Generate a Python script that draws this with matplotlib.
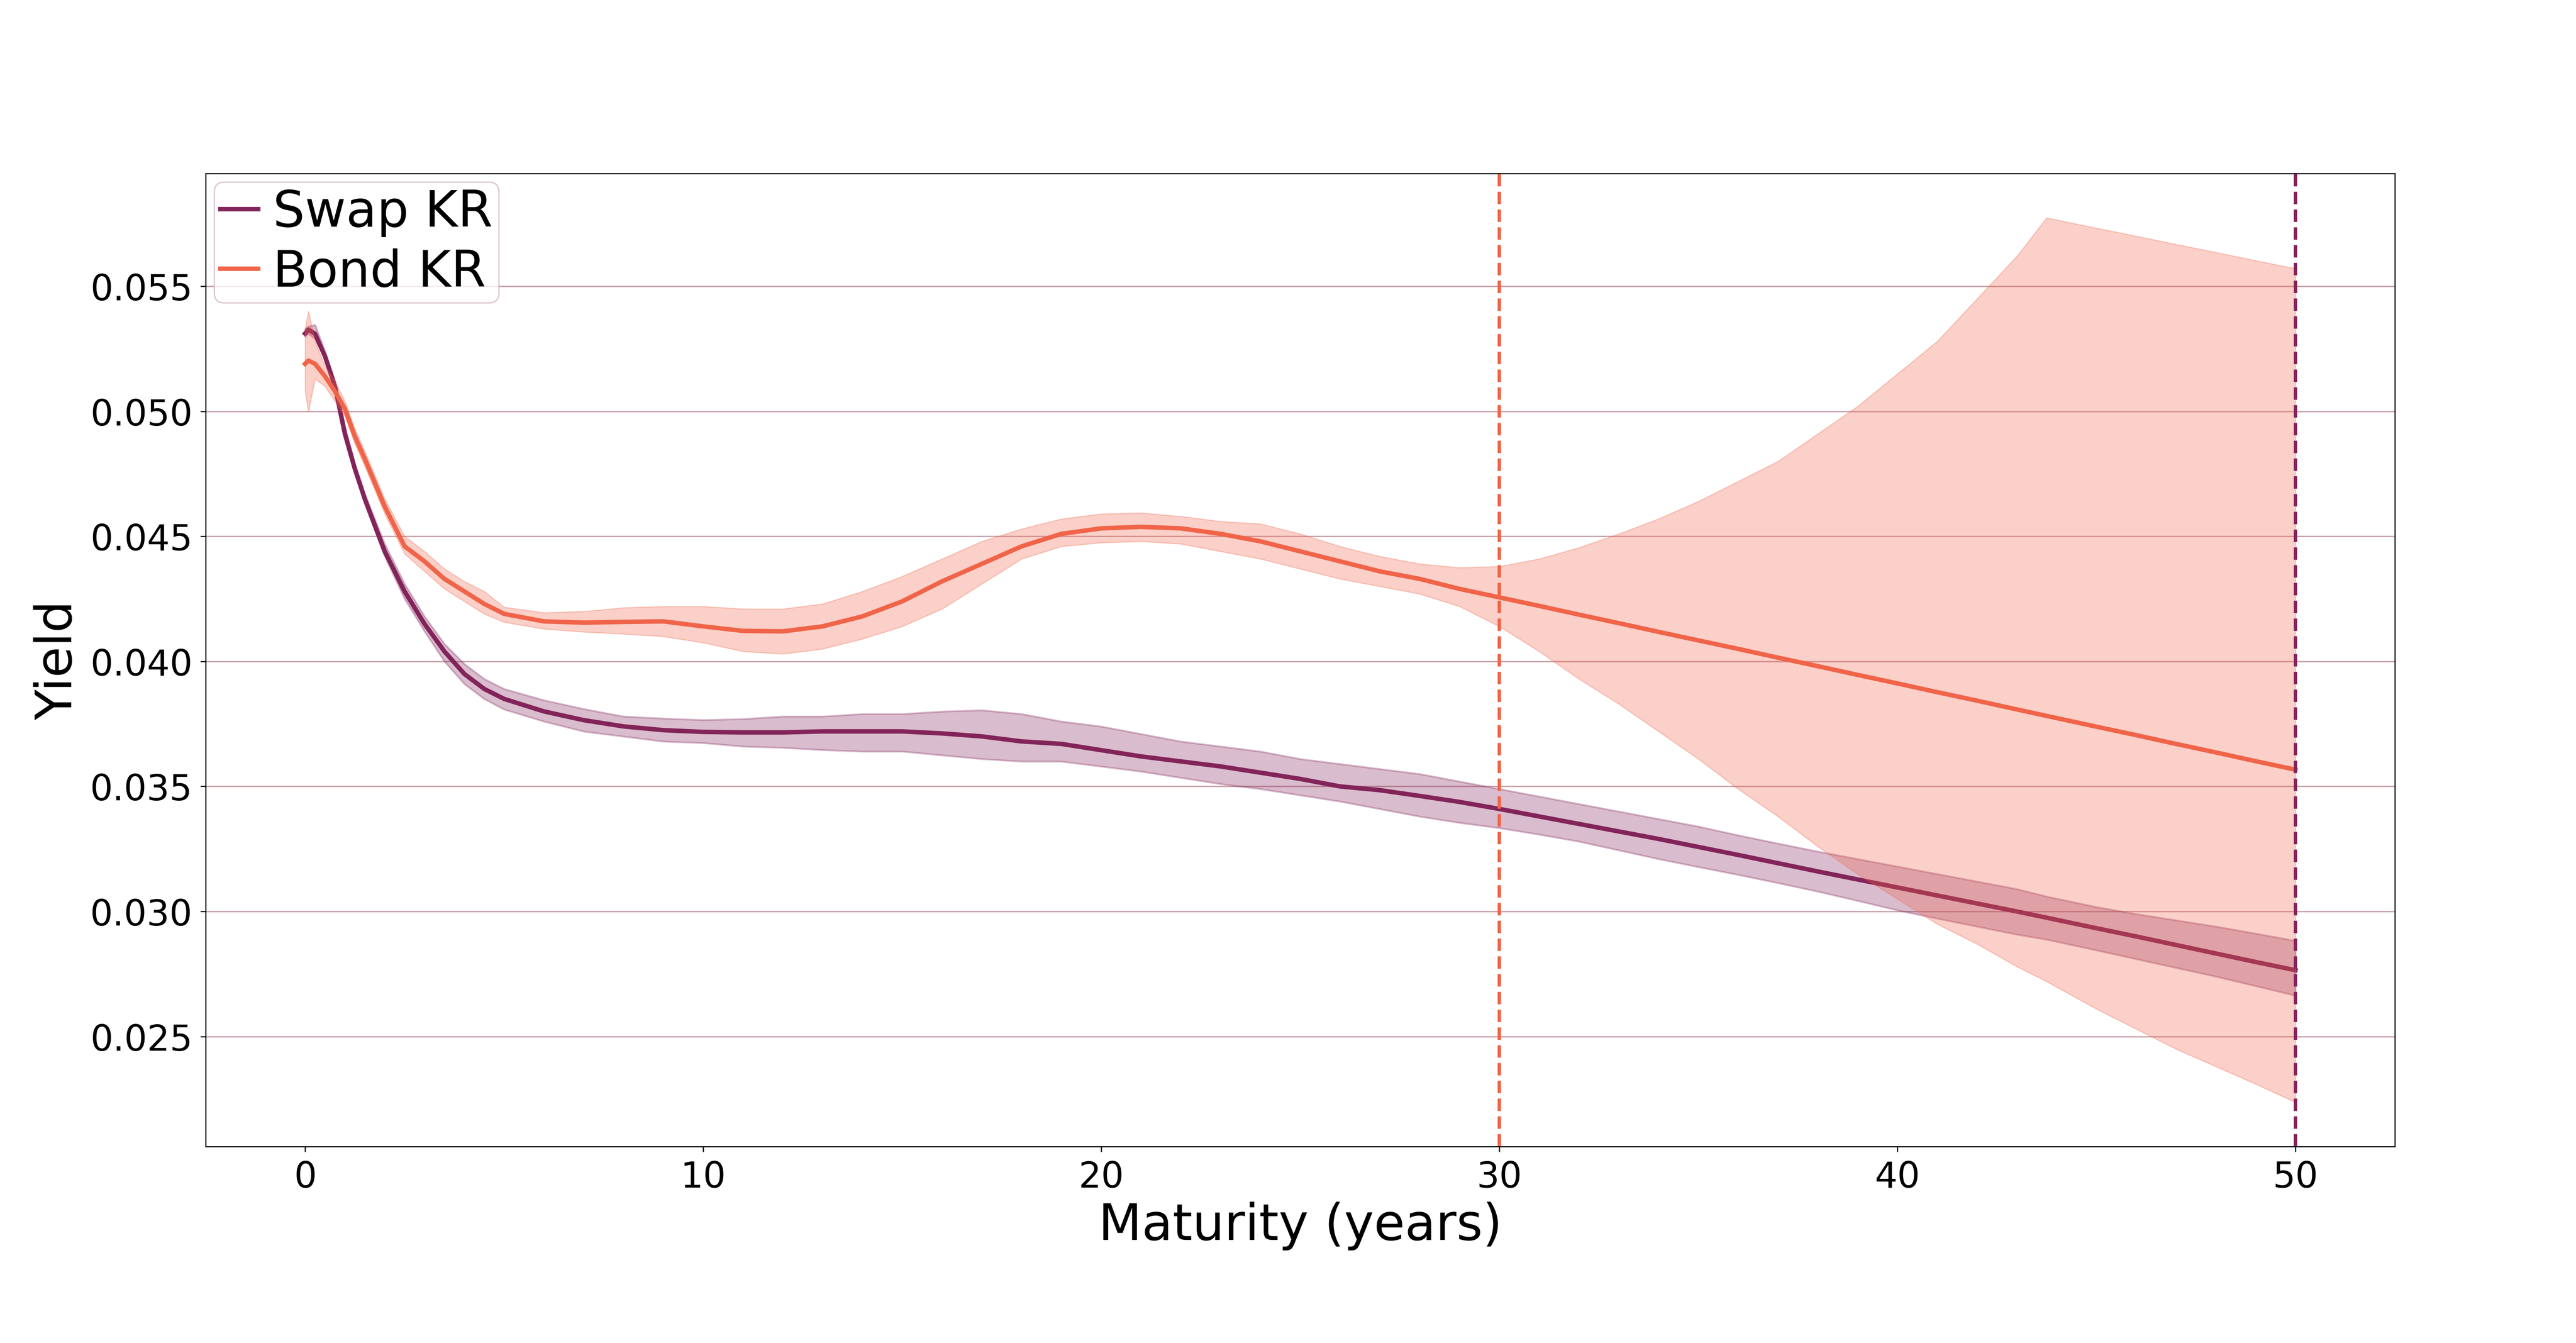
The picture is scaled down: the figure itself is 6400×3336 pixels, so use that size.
import matplotlib
matplotlib.use("Agg")
import matplotlib.pyplot as plt

# ---------------- data ----------------
maturity = [0, 0.083, 0.25, 0.5, 0.75, 1, 1.25, 1.5, 2, 2.5, 3, 3.5, 4, 4.5, 5,
            6, 7, 8, 9, 10, 11, 12, 13, 14, 15, 16, 17, 18, 19, 20, 21, 22, 23,
            24, 25, 26, 27, 28, 29, 30, 31, 32, 33, 34, 35, 36, 37, 38, 39, 40,
            41, 42, 43, 43.75, 45, 46, 47, 48, 49, 50]

swap_mid = [0.05311, 0.05327, 0.0531, 0.0522, 0.0510, 0.0491, 0.0477, 0.0465, 0.0444,
            0.0428, 0.0415, 0.0404, 0.0395, 0.0389, 0.0385,
            0.0380, 0.03765, 0.0374, 0.03725, 0.03718, 0.03716, 0.03716, 0.0372, 0.0372,
            0.0372, 0.03712, 0.0370, 0.0368, 0.0367, 0.03645, 0.0362, 0.0360, 0.0358,
            0.03555, 0.0353, 0.0350, 0.03485, 0.03462, 0.03438, 0.0341, 0.0338, 0.0335,
            0.0332, 0.0329, 0.03258, 0.03226, 0.03193, 0.0316, 0.03128, 0.03096,
            0.03064, 0.03032, 0.03, 0.02975, 0.02933, 0.029, 0.02866, 0.02832, 0.02798, 0.02765]
swap_hi = [0.0533, 0.0534, 0.05346, 0.0524, 0.0512, 0.0494, 0.0479, 0.0467, 0.0447,
           0.0431, 0.0418, 0.0407, 0.0399, 0.0393, 0.0389,
           0.03845, 0.0381, 0.0378, 0.03772, 0.03766, 0.0377, 0.0378, 0.0378, 0.0379,
           0.0379, 0.0380, 0.03805, 0.0379, 0.0376, 0.0374, 0.0371, 0.0368, 0.0366,
           0.0364, 0.0361, 0.0359, 0.0357, 0.0355, 0.0352, 0.0349, 0.0346, 0.0343,
           0.034, 0.0337, 0.0334, 0.03305, 0.03272, 0.0324, 0.0321, 0.0318,
           0.0315, 0.0312, 0.0309, 0.0306, 0.03018, 0.0299, 0.02965, 0.0294, 0.02912, 0.02883]
swap_lo = [0.0530, 0.0531, 0.0529, 0.0521, 0.0509, 0.0490, 0.0476, 0.0463, 0.0442,
           0.0425, 0.0412, 0.0400, 0.0391, 0.0385, 0.03808,
           0.0376, 0.0372, 0.0370, 0.0368, 0.03674, 0.0366, 0.03655, 0.03646, 0.0364,
           0.0364, 0.03625, 0.0361, 0.0360, 0.0360, 0.0358, 0.0356, 0.03535, 0.0351,
           0.0349, 0.03465, 0.0344, 0.0341, 0.0338, 0.03355, 0.03334, 0.03308, 0.0328,
           0.03245, 0.0321, 0.03178, 0.03147, 0.03114, 0.0308, 0.03043, 0.03005,
           0.02972, 0.0294, 0.02908, 0.02888, 0.02845, 0.0281, 0.02775, 0.0274, 0.02702, 0.02664]

bond_mid = [0.0519, 0.05203, 0.0519, 0.0514, 0.0508, 0.0501, 0.0490, 0.0481, 0.0462,
            0.0446, 0.0440, 0.0433, 0.0428, 0.0423, 0.0419,
            0.0416, 0.04155, 0.04158, 0.0416, 0.0414, 0.04122, 0.0412, 0.0414, 0.0418,
            0.0424, 0.0432, 0.0439, 0.0446, 0.0451, 0.04532, 0.04538, 0.04532, 0.0451,
            0.0448, 0.0444, 0.0440, 0.0436, 0.0433, 0.0429, 0.04256, 0.04222, 0.04187,
            0.04153, 0.04118, 0.04084, 0.0405, 0.04015, 0.03981, 0.03946, 0.03912,
            0.03877, 0.03843, 0.03808, 0.03782, 0.03739, 0.03705, 0.0367, 0.03636, 0.03601, 0.03567]
bond_hi = [0.0533, 0.0540, 0.0528, 0.0518, 0.0512, 0.0504, 0.0493, 0.0484, 0.0465,
           0.0450, 0.0444, 0.0437, 0.0432, 0.0428, 0.04217,
           0.04195, 0.0420, 0.04215, 0.0422, 0.0422, 0.0421, 0.0421, 0.0423, 0.0428,
           0.0434, 0.0441, 0.0448, 0.0453, 0.0457, 0.0459, 0.04594, 0.0458, 0.0456,
           0.0455, 0.0451, 0.0446, 0.0442, 0.0439, 0.04375, 0.0438, 0.0441, 0.04455,
           0.0451, 0.0457, 0.0464, 0.0472, 0.0480, 0.0491, 0.0502, 0.0515,
           0.0528, 0.0545, 0.0562, 0.05774, 0.05733, 0.05701, 0.05668, 0.05636, 0.05603, 0.05571]
bond_lo = [0.0508, 0.0500, 0.0513, 0.0510, 0.0504, 0.0498, 0.0487, 0.0478, 0.0459,
           0.0443, 0.0436, 0.0429, 0.0424, 0.0419, 0.04157,
           0.0413, 0.04118, 0.0411, 0.0410, 0.04075, 0.0404, 0.0403, 0.0405, 0.0409,
           0.0414, 0.0421, 0.0431, 0.0441, 0.0446, 0.04475, 0.0448, 0.0447, 0.0444,
           0.0441, 0.0437, 0.0433, 0.0430, 0.0427, 0.0422, 0.0414, 0.0404, 0.0393,
           0.0383, 0.0372, 0.0361, 0.0349, 0.0338, 0.0326, 0.0315, 0.0305,
           0.0295, 0.0287, 0.0278, 0.0272, 0.0261, 0.0253, 0.0245, 0.0238, 0.0231, 0.02237]

series_labels = ["Swap KR", "Bond KR"]
max_maturity = [50, 30]          # dashed vertical markers (swap, bond)

swap_color = "#82245a"
bond_color = "#f06449"
grid_color = "#c9a1a8"

# ---------------- figure ----------------
fig = plt.figure(figsize=(16, 8.3425), dpi=400)
ax = fig.add_axes([0.0798, 0.1463, 0.9297 - 0.0798, 0.8705 - 0.1463])

lw = 2.0
ax.plot(maturity, swap_mid, color=swap_color, lw=lw, label=series_labels[0], zorder=2)
ax.fill_between(maturity, swap_lo, swap_hi, color=swap_color, alpha=0.3, lw=0.8, zorder=2)
ax.plot(maturity, bond_mid, color=bond_color, lw=lw, label=series_labels[1], zorder=2)
ax.fill_between(maturity, bond_lo, bond_hi, color=bond_color, alpha=0.3, lw=0.5, zorder=2)

ax.axvline(max_maturity[1], color=bond_color, ls="--", lw=1.5, zorder=2.5)
ax.axvline(max_maturity[0], color=swap_color, ls="--", lw=1.5, zorder=2.5)

ax.set_axisbelow(True)
ax.yaxis.grid(True, color=grid_color, lw=0.6)
ax.xaxis.grid(False)

for s in ax.spines.values():
    s.set_linewidth(0.5)
    s.set_color("black")
ax.tick_params(axis="both", labelsize=16.0, length=2.4, width=0.5, pad=3.5)

ax.set_xlabel("Maturity (years)", fontsize=22.5, labelpad=3)
ax.set_ylabel("Yield", fontsize=22.5, labelpad=3.5)

leg = ax.legend(loc="upper left", fontsize=22.5, handlelength=0.75, handletextpad=0.3,
                borderpad=0.12, borderaxespad=0.17, labelspacing=0.22, framealpha=0.8)
leg.get_frame().set_edgecolor("#d6b8c6")
leg.get_frame().set_linewidth(0.6)

fig.savefig("out.png", dpi=400)
